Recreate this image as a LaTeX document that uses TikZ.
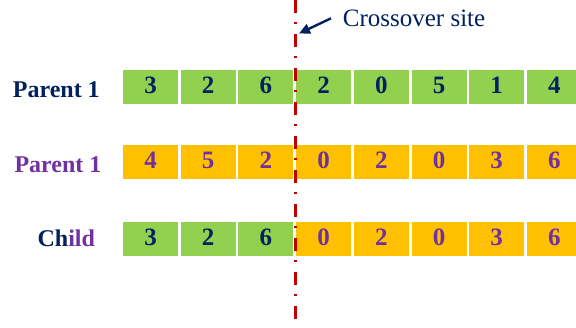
\documentclass[tikz,border=0pt]{standalone}
\usepackage{fontspec}
\setmainfont{Liberation Serif}
\usetikzlibrary{arrows.meta}
\definecolor{navy}{HTML}{002060}
\definecolor{plum}{HTML}{7030A0}
\definecolor{leaf}{HTML}{92D050}
\definecolor{amber}{HTML}{FFC000}
\definecolor{cutred}{HTML}{C00000}
\tikzset{
  gene/.style={minimum width=55pt, minimum height=34pt, inner sep=0pt, draw=none},
  digit/.style={font=\fontsize{25}{25}\selectfont\bfseries, anchor=base, inner sep=0pt},
  rowlabel/.style={font=\fontsize{24}{24}\selectfont\bfseries, anchor=base, inner sep=0pt},
  cutline/.style={cutred, line width=3pt, dash pattern=on 13pt off 9pt on 2pt off 10pt},
  pointer/.style={navy, line width=2.4pt, -{Triangle[length=11pt, width=10pt]}},
}
\begin{document}
\begin{tikzpicture}[x=1pt, y=-1pt]
  \useasboundingbox (0,0) rectangle (576,327);
  \clip (0,0) rectangle (576,327);
  % parent 1 (green)
  \foreach \v [count=\i from 0] in {3,2,6,2,0,5,1,4} {
    \node[gene, fill=leaf] (a\i) at ({123+57.7*\i+27.5},87) {};
    \node[digit, text=navy] (a\i t) at ([yshift=-6.5pt]a\i.center) {\v};
  }
  % second parent (orange)
  \foreach \v [count=\i from 0] in {4,5,2,0,2,0,3,6} {
    \node[gene, fill=amber] (b\i) at ({123+57.7*\i+27.5},162) {};
    \node[digit, text=plum] (b\i t) at ([yshift=-6.5pt]b\i.center) {\v};
  }
  % child: head of parent 1, tail of the second parent
  \foreach \v/\bg/\fg [count=\i from 0] in {3/leaf/navy,2/leaf/navy,6/leaf/navy,0/amber/plum,2/amber/plum,0/amber/plum,3/amber/plum,6/amber/plum} {
    \node[gene, fill=\bg] (c\i) at ({123+57.7*\i+27.5},239) {};
    \node[digit, text=\fg] (c\i t) at ([yshift=-6.5pt]c\i.center) {\v};
  }
  % row labels
  \node[rowlabel, text=navy] (lp1) at (56.3,97) {Parent 1};
  \node[rowlabel, text=plum] (lp2) at (58,172) {Parent 1};
  \node[rowlabel] (lch) at (66.3,246.7) {\textcolor{navy}{Ch}\textcolor{plum}{ild}};
  % crossover cut
  \coordinate (cuttop) at (295,0);
  \coordinate (cutbot) at (295,327);
  \draw[cutline] (cuttop) -- (cutbot);
  \node[font=\fontsize{25}{25}\selectfont, text=navy, anchor=base west, inner sep=0pt] (site) at (342.7,26.5) {Crossover site};
  \coordinate (tail) at (331,18.3);
  \coordinate (tip) at (299,33.5);
  \draw[pointer] (tail) -- (tip);
\end{tikzpicture}
\end{document}
